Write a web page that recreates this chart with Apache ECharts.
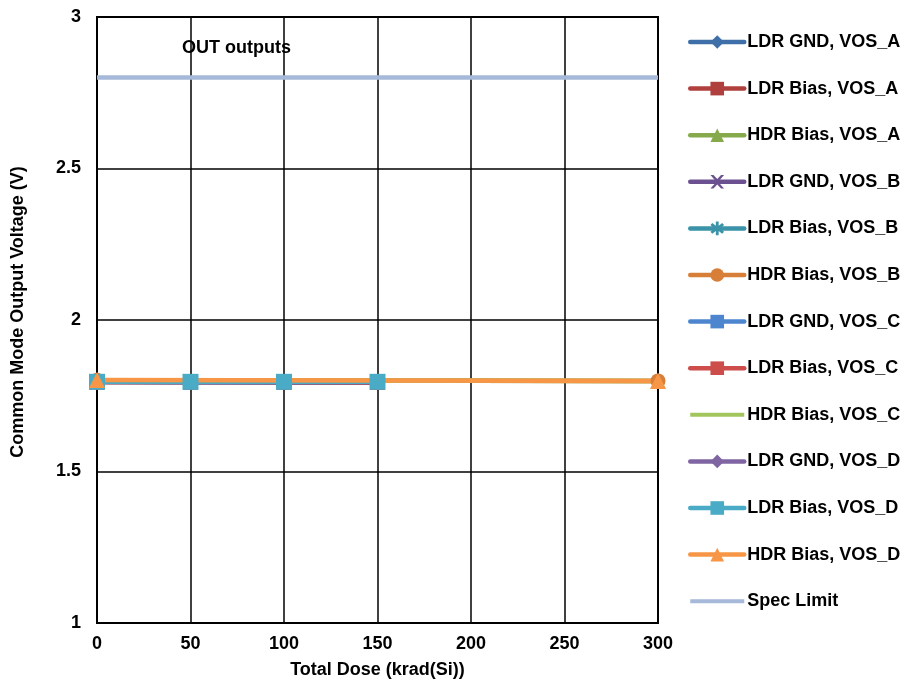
<!DOCTYPE html>
<html>
<head>
<meta charset="utf-8">
<script src="https://cdn.jsdelivr.net/npm/echarts@6/dist/echarts.min.js"></script>
<style>html,body{margin:0;padding:0;background:#fff}#c{width:906px;height:686px}</style>
</head>
<body>
<div id="c"></div>
<script>
// ---- data ----
const ldrDose = [0, 50, 100, 150];
const hdrDose = [0, 300];
const specDose = [0, 300];

const ldrGndA  = [1.796, 1.795, 1.795, 1.795];
const ldrBiasA = [1.795, 1.795, 1.795, 1.794];
const hdrBiasA = [1.801, 1.799];
const ldrGndB  = [1.795, 1.795, 1.794, 1.793];
const ldrBiasB = [1.796, 1.795, 1.795, 1.795];
const hdrBiasB = [1.801, 1.799];
const ldrGndC  = [1.796, 1.795, 1.795, 1.795];
const ldrBiasC = [1.795, 1.795, 1.795, 1.794];
const hdrBiasC = [1.801, 1.799];
const ldrGndD  = [1.796, 1.795, 1.795, 1.795];
const ldrBiasD = [1.796, 1.796, 1.796, 1.796];
const hdrBiasD = [1.802, 1.799];
const specLimit = [2.8, 2.8];

const yTicks = [1, 1.5, 2, 2.5, 3];
const xTicks = [0, 50, 100, 150, 200, 250, 300];

// ---- build ----
const pairs = (xs, ys) => xs.map((x, i) => [x, ys[i]]);
const xMarker = 'path://M0,0 L2.2,0 L5,3 L7.8,0 L10,0 L6.4,4.2 L6.4,5.8 L10,10 L7.8,10 L5,7 L2.2,10 L0,10 L3.6,5.8 L3.6,4.2 Z';
const starMarker = 'path://M4,0 L6,0 L6,3 L8.5,1 L9.8,2.5 L7,5 L9.8,7.5 L8.5,9 L6,7 L6,10 L4,10 L4,7 L1.5,9 L0.2,7.5 L3,5 L0.2,2.5 L1.5,1 L4,3 Z';
const lineOnlyIcon = 'path://M0,0h0.01v0.01h-0.01z M0,6.5h54v4h-54z M0,16.99h0.01v0.01h-0.01z';

function mk(name, xs, ys, color, symbol, size) {
  return {
    name, type: 'line', data: pairs(xs, ys),
    symbol: symbol, symbolSize: size, showSymbol: symbol !== 'none',
    lineStyle: { color, width: 4.5 },
    itemStyle: { color },
    emphasis: { disabled: true },
    animation: false, z: 3
  };
}

const series = [
  mk('LDR GND, VOS_A', ldrDose, ldrGndA, '#3f6fa8', 'diamond', 15),
  mk('LDR Bias, VOS_A', ldrDose, ldrBiasA, '#b0403d', 'rect', 14),
  mk('HDR Bias, VOS_A', hdrDose, hdrBiasA, '#86a94c', 'triangle', 15),
  mk('LDR GND, VOS_B', ldrDose, ldrGndB, '#6c5190', xMarker, 14),
  mk('LDR Bias, VOS_B', ldrDose, ldrBiasB, '#3a93a8', starMarker, 14),
  mk('HDR Bias, VOS_B', hdrDose, hdrBiasB, '#d77f38', 'circle', 15),
  mk('LDR GND, VOS_C', ldrDose, ldrGndC, '#4d86cf', 'rect', 15),
  mk('LDR Bias, VOS_C', ldrDose, ldrBiasC, '#cd4d4a', 'rect', 15),
  mk('HDR Bias, VOS_C', hdrDose, hdrBiasC, '#a2c65c', 'none', 0),
  mk('LDR GND, VOS_D', ldrDose, ldrGndD, '#8065a3', 'diamond', 15),
  mk('LDR Bias, VOS_D', ldrDose, ldrBiasD, '#4aabc6', 'rect', 16),
  mk('HDR Bias, VOS_D', hdrDose, hdrBiasD, '#f79646', 'triangle', 16),
  mk('Spec Limit', specDose, specLimit, '#a6b9d8', 'none', 0)
];

const chart = echarts.init(document.getElementById('c'), null, { renderer: 'canvas' });
const font = 'Liberation Sans, Arial, sans-serif';
const txt = { fontWeight: 'bold', fontSize: 18, color: '#000', fontFamily: font };
chart.setOption({
  animation: false,
  backgroundColor: '#fff',
  textStyle: { fontFamily: font },
  grid: { left: 97, right: 248, top: 17, bottom: 63, show: true, borderColor: '#000', borderWidth: 2 },
  xAxis: {
    type: 'value', min: xTicks[0], max: xTicks[xTicks.length - 1], interval: 50,
    name: 'Total Dose (krad(Si))', nameLocation: 'middle', nameGap: 38,
    nameTextStyle: txt,
    axisLine: { show: true, lineStyle: { color: '#000', width: 2 } },
    axisTick: { show: false },
    axisLabel: Object.assign({ margin: 12 }, txt),
    splitLine: { show: true, lineStyle: { color: '#000', width: 1.5 } }
  },
  yAxis: {
    type: 'value', min: yTicks[0], max: yTicks[yTicks.length - 1], interval: 0.5,
    name: 'Common Mode Output Voltage (V)', nameLocation: 'middle', nameGap: 70,
    nameTextStyle: Object.assign({ padding: [0, 0, 0, 16] }, txt),
    axisLine: { show: true, lineStyle: { color: '#000', width: 2 } },
    axisTick: { show: false },
    axisLabel: Object.assign({ margin: 16 }, txt),
    splitLine: { show: true, lineStyle: { color: '#000', width: 1.5 } }
  },
  legend: {
    orient: 'vertical', left: 688, top: 33, padding: 0,
    itemWidth: 54, itemHeight: 17, itemGap: 28.6,
    lineStyle: { width: 4.5, cap: 'round' },
    textStyle: Object.assign({ padding: [0, 0, 0, -2] }, txt),
    selectedMode: false,
    data: series.map(s => s.symbol === 'none' ? { name: s.name, icon: lineOnlyIcon } : s.name)
  },
  graphic: [{
    type: 'text', left: 182, top: 39,
    style: { text: 'OUT outputs', font: 'bold 18px ' + font, fill: '#000' }
  }],
  series
});
</script>
</body>
</html>
